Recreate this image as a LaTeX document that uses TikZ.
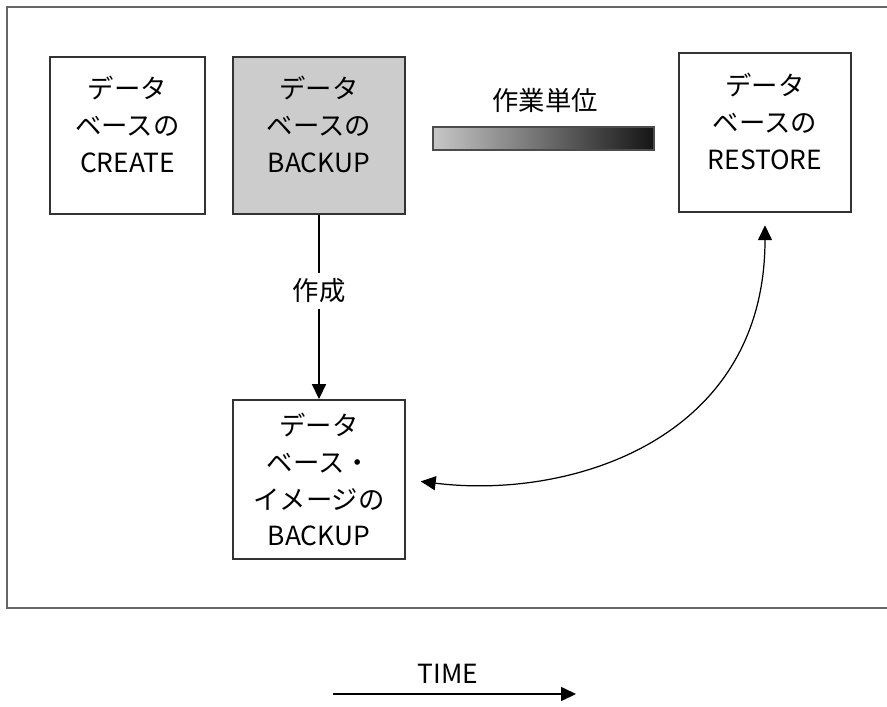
\documentclass[tikz,border=0pt]{standalone}
\usepackage{fontspec}
\setmainfont{Noto Sans CJK JP}
\usetikzlibrary{arrows.meta}

\begin{document}
\begin{tikzpicture}[x=0.02cm,y=-0.02cm,>={Triangle[length=8.5pt,width=8pt]},
    font=\fontsize{15pt}{21pt}\selectfont]
  \tikzstyle{dbbox}=[draw=black!80,line width=1.1pt,minimum width=3.44cm,minimum height=3.14cm,align=center,inner sep=0pt]
  \tikzstyle{frame}=[draw=black!60,line width=1.7pt]
  \tikzstyle{link}=[black,line width=0.7pt]

  \useasboundingbox (0,0) rectangle (887,707);
  \draw[frame] (900,7) -- (7,7) -- (7,608) -- (900,608);

  
  \node[dbbox,minimum width=3.1cm] (create) at (127.5,135.5) {データ\\ベースの\\CREATE\\[-8pt]\mbox{}};
  \node[dbbox,fill=black!20] (backup) at (319,135.5) {データ\\ベースの\\BACKUP\\[-8pt]\mbox{}};
  \node[dbbox,minimum height=3.18cm] (restore) at (765,132.5) {データ\\ベースの\\RESTORE\\[-8pt]\mbox{}};
  \node[dbbox,minimum height=3.18cm] (image) at (319,479.5) {データ\\ベース・\\イメージの\\BACKUP};

  \node (unit) at (545,100) {作業単位};
  \node[draw=black!70,line width=0.8pt,minimum width=4.42cm,minimum height=0.46cm,inner sep=0pt,
    left color=black!22,right color=black!92] (bar) at (543.5,138.5) {};

  \node[inner sep=3pt] (made) at (319,291) {作成};

  
  \draw[link] (backup) -- (made);
  \draw[link,->] (made) -- (image);
  \draw[link,<->,shorten <=8.5pt,shorten >=7pt] (image.east) .. controls (570,500) and (765,440) .. (restore.south);

  
  \node (time) at (448,674) {TIME};
  \coordinate (t0) at (333,694);
  \coordinate (t1) at (576,694);
  \draw[link,->] (t0) -- (t1);

\end{tikzpicture}
\end{document}
